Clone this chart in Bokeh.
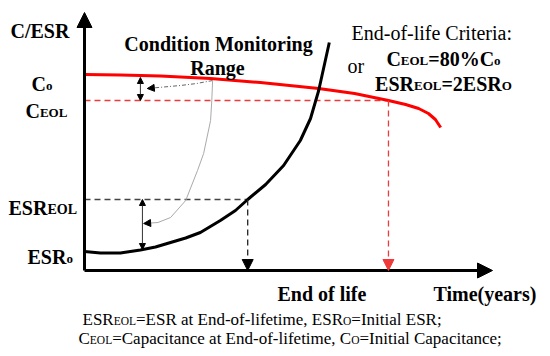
from bokeh.plotting import figure
from bokeh.models import Range1d, Arrow, NormalHead, Label
from bokeh.embed import file_html
from bokeh.resources import INLINE

# ---------------- data (schematic) ----------------
years_c = [0.0, 0.88, 1.86, 3.09, 4.31, 5.74, 6.62, 7.45, 7.87, 8.19, 8.43, 8.60, 8.73]
capacitance = [0.98, 0.9775, 0.9725, 0.96, 0.94, 0.91, 0.885, 0.85, 0.83, 0.81, 0.785, 0.755, 0.715]

years_esr = [0.0, 0.39, 0.88, 1.37, 1.74, 2.11, 2.48, 2.84, 3.33, 3.70, 4.0, 4.44, 4.88, 5.29,
             5.54, 5.74, 6.0]
esr = [0.095, 0.0875, 0.0875, 0.1025, 0.1175, 0.14, 0.1625, 0.19, 0.25, 0.30, 0.355, 0.43,
       0.525, 0.65, 0.76, 0.90, 1.14]

C0 = 0.965
C_EOL = 0.85
ESR0 = 0.105
ESR_EOL = 0.355
t_eol_esr = 4.0
t_eol_c = 7.45
t_axis_end = 10.0
v_axis_end = 1.29
t_mon_c = 1.37
t_mon_esr = 1.42

# guide arrows of the "condition monitoring" sketch
guide1_t = [3.14, 2.75, 2.35, 1.54]
guide1_v = [0.95, 0.935, 0.925, 0.91]
guide2_t = [3.14, 3.12, 3.09, 2.92, 2.77, 2.48, 2.11, 1.80, 1.45]
guide2_v = [0.95, 0.85, 0.75, 0.585, 0.50, 0.35, 0.265, 0.24, 0.235]

# ---------------- layout helpers ----------------
W, H = 546, 352
PX_PER_T = 40.8
PX_PER_V = 200.0
OX, OY = 84, 270  # page px of the origin
X0, Y0 = 0, 0     # page px of the canvas corner as observed


def tx(px):
    return (px - OX) / PX_PER_T


def ty(py):
    return (OY - py) / PX_PER_V


p = figure(width=W, height=H,
           x_range=Range1d(tx(X0), tx(X0 + W)), y_range=Range1d(ty(Y0 + H), ty(Y0)),
           output_backend="svg", toolbar_location=None, min_border=0,
           x_axis_location=None, y_axis_location=None,
           outline_line_color=None, background_fill_color="white",
           border_fill_color="white")
p.grid.grid_line_color = None

# axes with arrow heads
p.add_layout(Arrow(x_start=0, y_start=0, x_end=t_axis_end, y_end=0, line_width=3,
                   line_color="black",
                   end=NormalHead(size=15, fill_color="black", line_color="black", line_width=1)))
p.add_layout(Arrow(x_start=0, y_start=0, x_end=0, y_end=v_axis_end, line_width=3,
                   line_color="black",
                   end=NormalHead(size=15, fill_color="black", line_color="black", line_width=1)))

# dashed reference lines
p.line([0, t_eol_c], [C_EOL, C_EOL], line_color="#f03a3a", line_width=1.3, line_dash="6 4")
p.add_layout(Arrow(x_start=t_eol_c, y_start=C_EOL, x_end=t_eol_c, y_end=0,
                   line_color="#f03a3a", line_width=1.3, line_dash="6 4",
                   end=NormalHead(size=11, fill_color="#f03a3a", line_color="#f03a3a", line_width=1)))
p.line([0, t_eol_esr], [ESR_EOL, ESR_EOL], line_color="#444444", line_width=1.3, line_dash="6 4")
p.add_layout(Arrow(x_start=t_eol_esr, y_start=ESR_EOL, x_end=t_eol_esr, y_end=0,
                   line_color="#222222", line_width=1.3, line_dash="6 4",
                   end=NormalHead(size=11, fill_color="black", line_color="black", line_width=1)))

# curves
p.line(years_c, capacitance, line_color="#ff0000", line_width=3)
p.line(years_esr, esr, line_color="black", line_width=3)

# double arrows
for t, a, b in [(t_mon_c, C0, C_EOL), (t_mon_esr, ESR_EOL, ESR0)]:
    p.add_layout(Arrow(x_start=t, y_start=a, x_end=t, y_end=b, line_color="#333333",
                       line_width=1,
                       start=NormalHead(size=6, fill_color="black", line_color="black", line_width=1),
                       end=NormalHead(size=6, fill_color="black", line_color="black", line_width=1)))

# guide curves
p.line(guide1_t, guide1_v, line_color="#666666", line_width=1, line_dash="4 2 1 2")
p.add_layout(Arrow(x_start=guide1_t[-2], y_start=guide1_v[-2], x_end=guide1_t[-1], y_end=guide1_v[-1],
                   line_alpha=0,
                   end=NormalHead(size=7, fill_color="black", line_color="black", line_width=1)))
p.line(guide2_t, guide2_v, line_color="#aaaaaa", line_width=1)
p.add_layout(Arrow(x_start=guide2_t[-2], y_start=guide2_v[-2], x_end=guide2_t[-1], y_end=guide2_v[-1],
                   line_alpha=0,
                   end=NormalHead(size=7, fill_color="black", line_color="black", line_width=1)))

# ---------------- texts ----------------
TR = {' ': 250, '%': 833, '(': 333, ')': 333, ',': 250, '-': 333, '.': 250, '/': 278, ':': 278,
      ';': 278, '=': 564, 'A': 722, 'C': 667, 'E': 611, 'I': 333, 'L': 611, 'O': 722, 'R': 667,
      'S': 556, 'T': 611, 'a': 444, 'c': 444, 'd': 500, 'e': 444, 'f': 333, 'i': 278, 'l': 278,
      'm': 778, 'n': 500, 'o': 500, 'p': 500, 'r': 333, 's': 389, 't': 278, 'y': 500}
TB = {' ': 250, '%': 1000, '(': 333, ')': 333, '-': 333, '/': 278, '=': 570, ':': 333,
      'C': 722, 'E': 667, 'L': 667, 'O': 778, 'R': 722, 'S': 556, 'T': 667, 'a': 500,
      'd': 556, 'e': 444, 'f': 333, 'g': 500, 'i': 278, 'l': 278, 'm': 833, 'n': 556,
      'o': 500, 'r': 444, 's': 389, 't': 333, 'y': 500, 'M': 944}
for d in "0123456789":
    TR[d] = 500
    TB[d] = 500

FONT = "Liberation Serif"


def tw(s, size, bold):
    tab = TB if bold else TR
    return sum(tab.get(c, 500) for c in s) * size / 1000.0


def rich(segments, x, y, size, subsize, bold=False, align="left", color="black"):
    total = sum(tw(t, subsize if sub else size, bold) for t, sub in segments)
    if align == "center":
        x -= total / 2
    elif align == "right":
        x -= total
    for t, sub in segments:
        fs = subsize if sub else size
        p.add_layout(Label(x=tx(x), y=ty(y + (1.5 if sub else 0)), text=t,
                           text_font=FONT, text_font_size=f"{fs}px",
                           text_font_style="bold" if bold else "normal",
                           text_align="left", text_baseline="alphabetic",
                           text_color=color))
        x += tw(t, fs, bold)


rich([("C/ESR", False)], 10, 30, 20, 13, bold=True)
rich([("Condition Monitoring", False)], 218, 43, 20, 13, bold=True, align="center")
rich([("Range", False)], 217, 67, 20, 13, bold=True, align="center")
rich([("End-of-life Criteria:", False)], 351, 32, 20, 13)
rich([("or", False)], 347, 65, 20, 13)
rich([("C", False), ("EOL", True), ("=80%C", False), ("o", True)], 443, 58, 20, 13, bold=True, align="center")
rich([("ESR", False), ("EOL", True), ("=2ESR", False), ("O", True)], 443, 83, 20, 13, bold=True, align="center")

rich([("C", False), ("o", True)], 31, 83, 20, 13, bold=True)
rich([("C", False), ("EOL", True)], 25, 110, 20, 13, bold=True)
rich([("ESR", False), ("EOL", True)], 8, 207, 20, 14, bold=True)
rich([("ESR", False), ("o", True)], 27, 256, 20, 13, bold=True)

rich([("End of life", False)], 277, 293, 20, 13, bold=True)
rich([("Time(years)", False)], 433, 293, 20, 13, bold=True)

rich([("ESR", False), ("EOL", True), ("=ESR at End-of-lifetime, ESR", False), ("O", True),
      ("=Initial ESR;", False)], 82, 319, 17, 11.5)
rich([("C", False), ("EOL", True), ("=Capacitance at End-of-lifetime, C", False), ("O", True),
      ("=Initial Capacitance;", False)], 78, 338, 17, 11.5)

open("out.html", "w").write(file_html(p, INLINE))
